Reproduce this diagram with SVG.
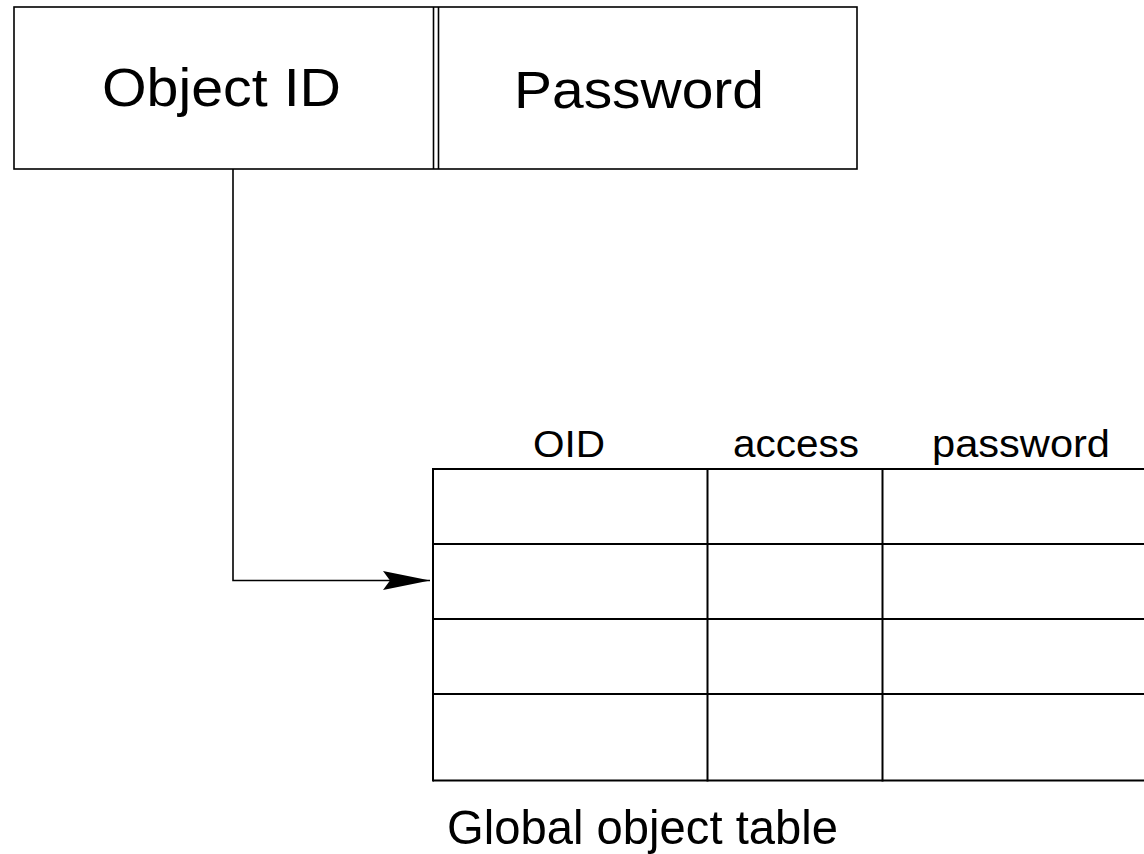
<svg xmlns="http://www.w3.org/2000/svg" width="1144" height="854" viewBox="0 0 1144 854">
<style>
.ln{fill:none;stroke:#000;stroke-width:1.6}
.tb{fill:none;stroke:#000;stroke-width:2}
.t{font-family:"Liberation Sans",Arial,sans-serif;fill:#000}
</style>
<defs>
<marker id="ah" markerUnits="userSpaceOnUse" markerWidth="50" markerHeight="24" viewBox="-48 -11 50 22" refX="0" refY="0" orient="auto">
<path d="M0,0 L-47,-9.5 L-40,0 L-47,9.5 Z" fill="#000"/>
</marker>
</defs>
<rect width="1144" height="854" fill="#fff"/>
<g id="record">
<rect class="ln" x="14" y="7" width="843" height="162"/>
<line class="ln" x1="433.5" y1="7" x2="433.5" y2="169"/>
<line class="ln" x1="438.5" y1="7" x2="438.5" y2="169"/>
<text class="t" x="102" y="106" font-size="53" textLength="239" lengthAdjust="spacingAndGlyphs">Object ID</text>
<text class="t" x="514" y="108" font-size="51" textLength="250" lengthAdjust="spacingAndGlyphs">Password</text>
</g>
<g id="table">
<line class="tb" x1="433" y1="469" x2="1144" y2="469"/>
<line class="tb" x1="433" y1="544" x2="1144" y2="544"/>
<line class="tb" x1="433" y1="619" x2="1144" y2="619"/>
<line class="tb" x1="433" y1="694" x2="1144" y2="694"/>
<line class="tb" x1="433" y1="780.5" x2="1144" y2="780.5"/>
<line class="tb" x1="433" y1="468" x2="433" y2="781.5"/>
<line class="tb" x1="707.5" y1="468" x2="707.5" y2="781.5"/>
<line class="tb" x1="882.5" y1="468" x2="882.5" y2="781.5"/>
<text class="t" x="533" y="457" font-size="37" textLength="72" lengthAdjust="spacingAndGlyphs">OID</text>
<text class="t" x="733" y="457" font-size="38" textLength="126" lengthAdjust="spacingAndGlyphs">access</text>
<text class="t" x="932" y="457" font-size="38" textLength="178" lengthAdjust="spacingAndGlyphs">password</text>
<text class="t" x="447" y="844" font-size="49" textLength="391" lengthAdjust="spacingAndGlyphs">Global object table</text>
</g>
<g id="connectors">
<path class="ln" d="M233,169 L233,580.5 L430,580.5" marker-end="url(#ah)"/>
</g>
</svg>
